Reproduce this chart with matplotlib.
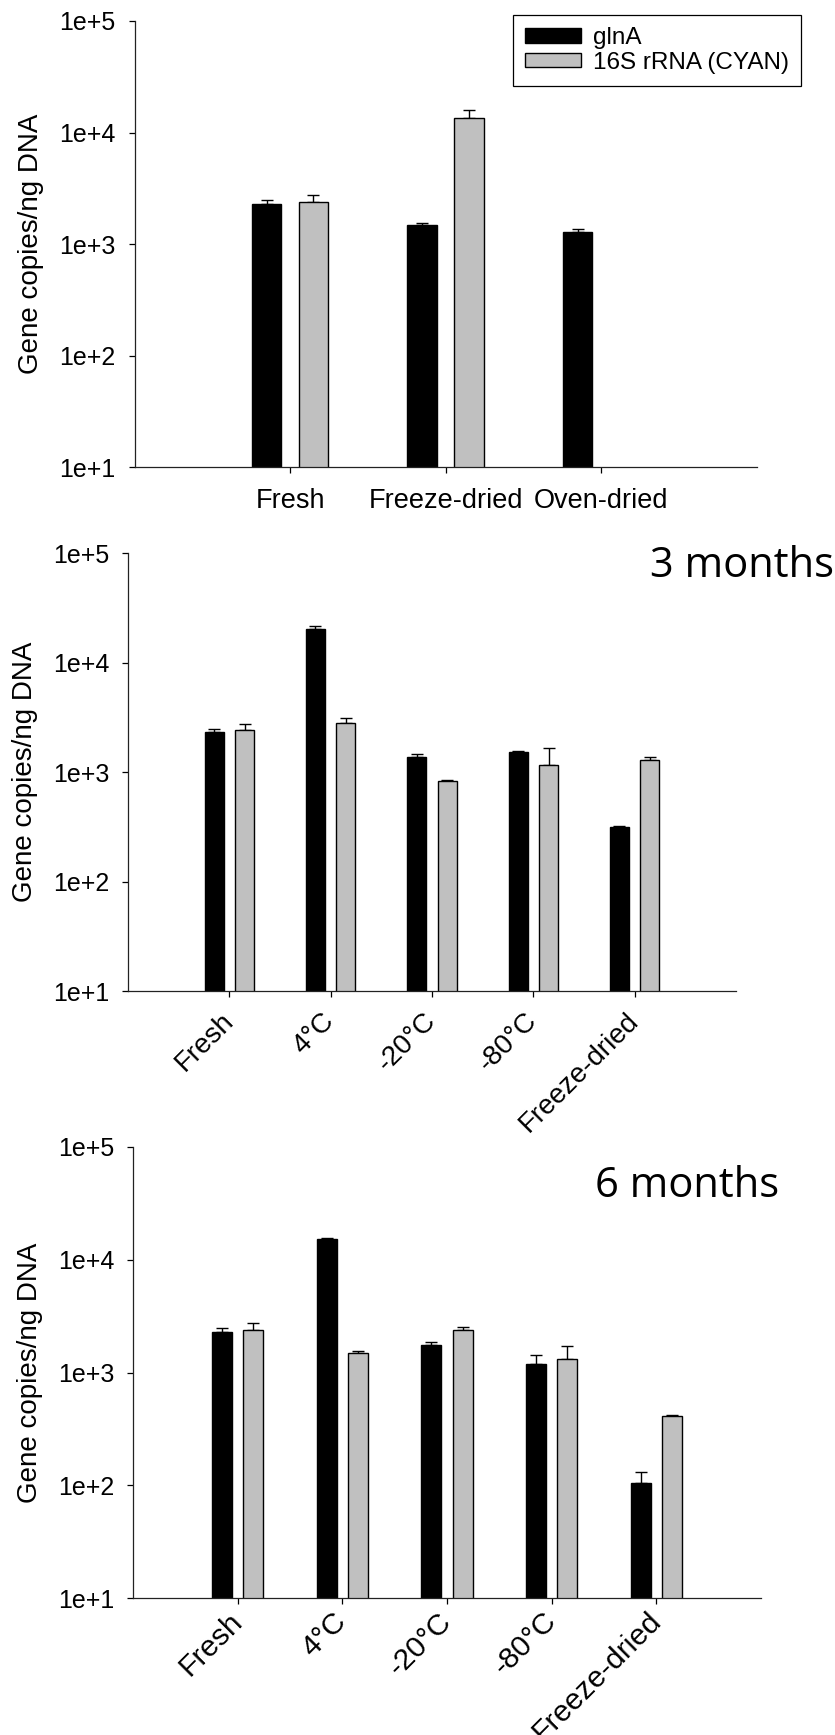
import numpy as np
import matplotlib
matplotlib.use('Agg')
import matplotlib.pyplot as plt
from matplotlib.ticker import FuncFormatter, NullLocator

plt.rcParams['font.family'] = ['Liberation Sans', 'DejaVu Sans']

# freshly collected vs. dried
cats_0 = ['Fresh', 'Freeze-dried', 'Oven-dried']
glna_0 = [2300, 1500, 1290]
glna_0_err = [190, 55, 85]
rrna_0 = [2400, 13640, np.nan]
rrna_0_err = [340, 2460, np.nan]

# 3 months of storage
cats_3 = ['Fresh', '4°C', '-20°C', '-80°C', 'Freeze-dried']
glna_3 = [2300, 20240, 1370, 1510, 313]
glna_3_err = [190, 1260, 75, 57, 5]
rrna_3 = [2400, 2794, 823, 1162, 1300]
rrna_3_err = [340, 306, 25, 490, 80]

# 6 months of storage
cats_6 = ['Fresh', '4°C', '-20°C', '-80°C', 'Freeze-dried']
glna_6 = [2300, 15400, 1750, 1192, 104]
glna_6_err = [190, 240, 130, 252, 26]
rrna_6 = [2400, 1492, 2390, 1323, 408]
rrna_6_err = [340, 60, 118, 400, 14]

W, H = 835, 1735
BAR_W = 0.19
OFFSET = 0.15


def add_panel(fig, box, cats, glna, glna_err, rrna, rrna_err,
              tick_size, rotate, xpad):
    """Draw one grouped bar panel; box is (left, top, right, bottom) in px."""
    left, top, right, bottom = box
    ax = fig.add_axes([left / W, 1 - bottom / H,
                       (right - left) / W, (bottom - top) / H])
    x = np.arange(1, len(cats) + 1)
    glna = np.array(glna, dtype=float)
    rrna = np.array(rrna, dtype=float)
    glna_err = np.array(glna_err, dtype=float)
    rrna_err = np.array(rrna_err, dtype=float)

    ax.bar(x - OFFSET, glna, BAR_W, color='black', edgecolor='black',
           linewidth=1.0, label='glnA', zorder=2)
    ok = ~np.isnan(rrna)
    ax.bar(x[ok] + OFFSET, rrna[ok], BAR_W, color='#c0c0c0',
           edgecolor='black', linewidth=1.0, label='16S rRNA (CYAN)', zorder=2)

    ax.errorbar(x - OFFSET, glna, yerr=[np.zeros_like(glna), glna_err],
                fmt='none', ecolor='black', elinewidth=1.0, capsize=4.6,
                capthick=1.0, zorder=1)
    ax.errorbar(x[ok] + OFFSET, rrna[ok],
                yerr=[np.zeros(ok.sum()), rrna_err[ok]],
                fmt='none', ecolor='black', elinewidth=1.0, capsize=4.6,
                capthick=1.0, zorder=1)

    ax.set_yscale('log')
    ax.set_ylim(10, 1e5)
    ax.set_yticks([1e1, 1e2, 1e3, 1e4, 1e5])
    ax.yaxis.set_major_formatter(
        FuncFormatter(lambda v, p: '1e+%d' % int(round(np.log10(v)))))
    ax.yaxis.set_minor_locator(NullLocator())
    ax.set_xlim(0, len(cats) + 1)
    ax.set_xticks(x)
    if rotate:
        ax.set_xticklabels(cats, rotation=45, ha='right', va='center',
                           rotation_mode='anchor', fontsize=tick_size)
    else:
        ax.set_xticklabels(cats, fontsize=tick_size)

    for s in ['top', 'right']:
        ax.spines[s].set_visible(False)
    for s in ['left', 'bottom']:
        ax.spines[s].set_linewidth(0.9)
        ax.spines[s].set_color('#222222')
    ax.tick_params(axis='y', direction='out', length=4.5, width=0.9,
                   labelsize=18, pad=9)
    ax.tick_params(axis='x', direction='out', length=4.5, width=0.9,
                   pad=xpad)

    ax.set_ylabel('Gene copies/ng DNA', fontsize=20)
    # right edge of the rotated label sits ~90 px left of the axis
    ax.yaxis.set_label_coords(-90.0 / (right - left), 0.5)
    return ax


fig = plt.figure(figsize=(W / 100, H / 100), dpi=100)

ax1 = add_panel(fig, (134.5, 21, 756.5, 467.5), cats_0, glna_0, glna_0_err,
                rrna_0, rrna_0_err, tick_size=19.5, rotate=False, xpad=10)
ax2 = add_panel(fig, (128, 553, 736, 991), cats_3, glna_3, glna_3_err,
                rrna_3, rrna_3_err, tick_size=20, rotate=True, xpad=14)
ax3 = add_panel(fig, (133, 1147, 761, 1598), cats_6, glna_6, glna_6_err,
                rrna_6, rrna_6_err, tick_size=21.5, rotate=True, xpad=9)

leg = ax1.legend(loc='upper right', bbox_to_anchor=(801 / W, 1 - 15 / H),
                 bbox_transform=fig.transFigure, borderaxespad=0,
                 fontsize=17.5, handlelength=2.3, handleheight=0.53,
                 handletextpad=0.5, labelspacing=0.1, borderpad=0.5,
                 fancybox=False, framealpha=1)
leg.get_frame().set_edgecolor('black')
leg.get_frame().set_linewidth(0.9)

fig.text(650 / W, 1 - 577 / H, '3 months', fontsize=30,
         family=['Open Sans', 'DejaVu Sans'], ha='left', va='baseline')
fig.text(595 / W, 1 - 1197 / H, '6 months', fontsize=30,
         family=['Open Sans', 'DejaVu Sans'], ha='left', va='baseline')

fig.savefig('out.png', dpi=100)
